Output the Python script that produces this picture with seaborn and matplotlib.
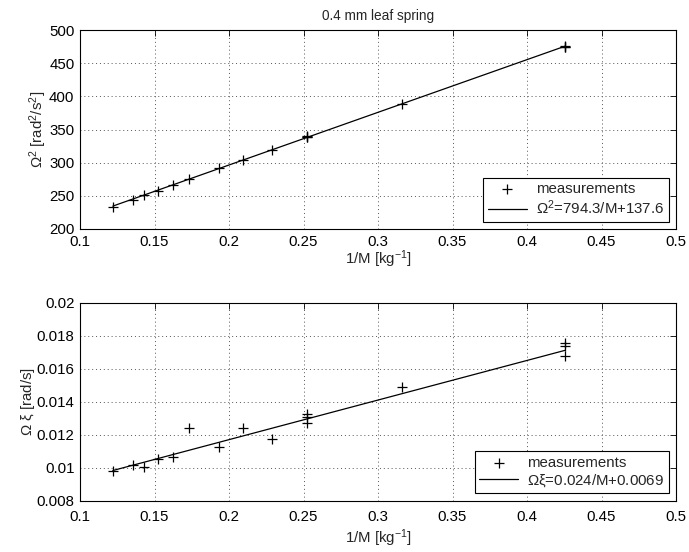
import numpy as np
import pandas as pd
import matplotlib
matplotlib.use("Agg")
import matplotlib.pyplot as plt
from matplotlib.ticker import FuncFormatter
import seaborn as sns

# Measured inverse mass values [1/kg]
inv_mass = [0.122, 0.1356, 0.143, 0.1523, 0.1622, 0.1732, 0.1935, 0.2096,
            0.2289, 0.2526, 0.2526, 0.2526, 0.3163, 0.4255, 0.4255, 0.4255]
# Squared natural frequency [rad^2/s^2]
omega_sq = [233.5, 243.6, 251.0, 257.6, 266.0, 274.8, 291.4, 304.0,
            319.5, 339.5, 338.5, 339.0, 388.4, 474.5, 475.5, 474.0]
# Damping product Omega*xi [rad/s]
omega_xi = [0.00982, 0.01015, 0.01006, 0.01055, 0.01063, 0.01242, 0.01124, 0.01242,
            0.01176, 0.01324, 0.01307, 0.01273, 0.01487, 0.01754, 0.01739, 0.01679]

# Linear fit coefficients shown in the legends
fit_sq = (794.3, 137.6)
fit_xi = (0.024, 0.0069)

x_ticks = [0.1, 0.15, 0.2, 0.25, 0.3, 0.35, 0.4, 0.45, 0.5]
y_ticks_sq = [200, 250, 300, 350, 400, 450, 500]
y_ticks_xi = [0.008, 0.01, 0.012, 0.014, 0.016, 0.018, 0.02]

sns.set_style("white")
plt.rcParams["font.family"] = ["Liberation Sans", "DejaVu Sans"]
plt.rcParams["mathtext.fontset"] = "custom"
plt.rcParams["mathtext.rm"] = "Liberation Sans"
plt.rcParams["mathtext.it"] = "Liberation Sans"
plt.rcParams["mathtext.default"] = "regular"

FS = 10.8

df = pd.DataFrame({"inv_mass": inv_mass, "omega_sq": omega_sq, "omega_xi": omega_xi})
x_fit = np.array([min(inv_mass), max(inv_mass)])
fit_df = pd.DataFrame({
    "inv_mass": x_fit,
    "omega_sq": fit_sq[0] * x_fit + fit_sq[1],
    "omega_xi": fit_xi[0] * x_fit + fit_xi[1],
})

fig = plt.figure(figsize=(6.89, 5.52), dpi=100)
ax1 = fig.add_axes([80 / 689, 1 - 229 / 552, 596 / 689, 199 / 552])
ax2 = fig.add_axes([80 / 689, 1 - 500.7 / 552, 596 / 689, 198 / 552])

fmt = FuncFormatter(lambda v, p: "%g" % round(v, 6))


def style_axis(ax, yticks, ylabel, xlabel, xpad, xlabelpad):
    ax.set_xlim(0.1, 0.5)
    ax.set_ylim(yticks[0], yticks[-1])
    ax.set_xticks(x_ticks)
    ax.set_yticks(yticks)
    ax.xaxis.set_major_formatter(fmt)
    ax.yaxis.set_major_formatter(fmt)
    ax.tick_params(direction="in", length=4, width=0.6, top=True, right=True,
                   labelsize=FS, colors="black", pad=4)
    ax.tick_params(axis="x", pad=xpad)
    ax.grid(True, linestyle=(0, (1, 3)), color="#555555", linewidth=0.7)
    for s in ax.spines.values():
        s.set_color("black")
        s.set_linewidth(0.8)
    ax.set_xlabel(xlabel, fontsize=FS, labelpad=xlabelpad)
    ax.set_ylabel(ylabel, fontsize=FS, labelpad=0)


# Upper panel: squared frequency
sns.scatterplot(data=df, x="inv_mass", y="omega_sq", marker="+", s=60, color="black",
                linewidth=0.9, ax=ax1, label="measurements", zorder=3)
sns.lineplot(data=fit_df, x="inv_mass", y="omega_sq", color="black", linewidth=0.9,
             ax=ax1, label=r"$\Omega^2$=794.3/M+137.6")
style_axis(ax1, y_ticks_sq, r"$\Omega^2$ [rad$^2$/s$^2$]", r"1/M [kg$^{-1}$]", 4, 0)
ax1.set_title("0.4 mm leaf spring", fontsize=9.8, pad=7)

# Lower panel: damping
sns.scatterplot(data=df, x="inv_mass", y="omega_xi", marker="+", s=60, color="black",
                linewidth=0.9, ax=ax2, label="measurements", zorder=3)
sns.lineplot(data=fit_df, x="inv_mass", y="omega_xi", color="black", linewidth=0.9,
             ax=ax2, label=r"$\Omega\xi$=0.024/M+0.0069")
style_axis(ax2, y_ticks_xi, r"$\Omega$ $\xi$ [rad/s]", r"1/M [kg$^{-1}$]", 7, 2)

for ax in (ax1, ax2):
    leg = ax.legend(loc="lower right", fontsize=FS, frameon=True, fancybox=False,
                    edgecolor="black", framealpha=1, borderaxespad=0.5,
                    handlelength=2.6, borderpad=0.3, labelspacing=0.15,
                    handletextpad=0.6)
    leg.get_frame().set_linewidth(0.8)

fig.savefig("out.png", dpi=100, facecolor="white")
